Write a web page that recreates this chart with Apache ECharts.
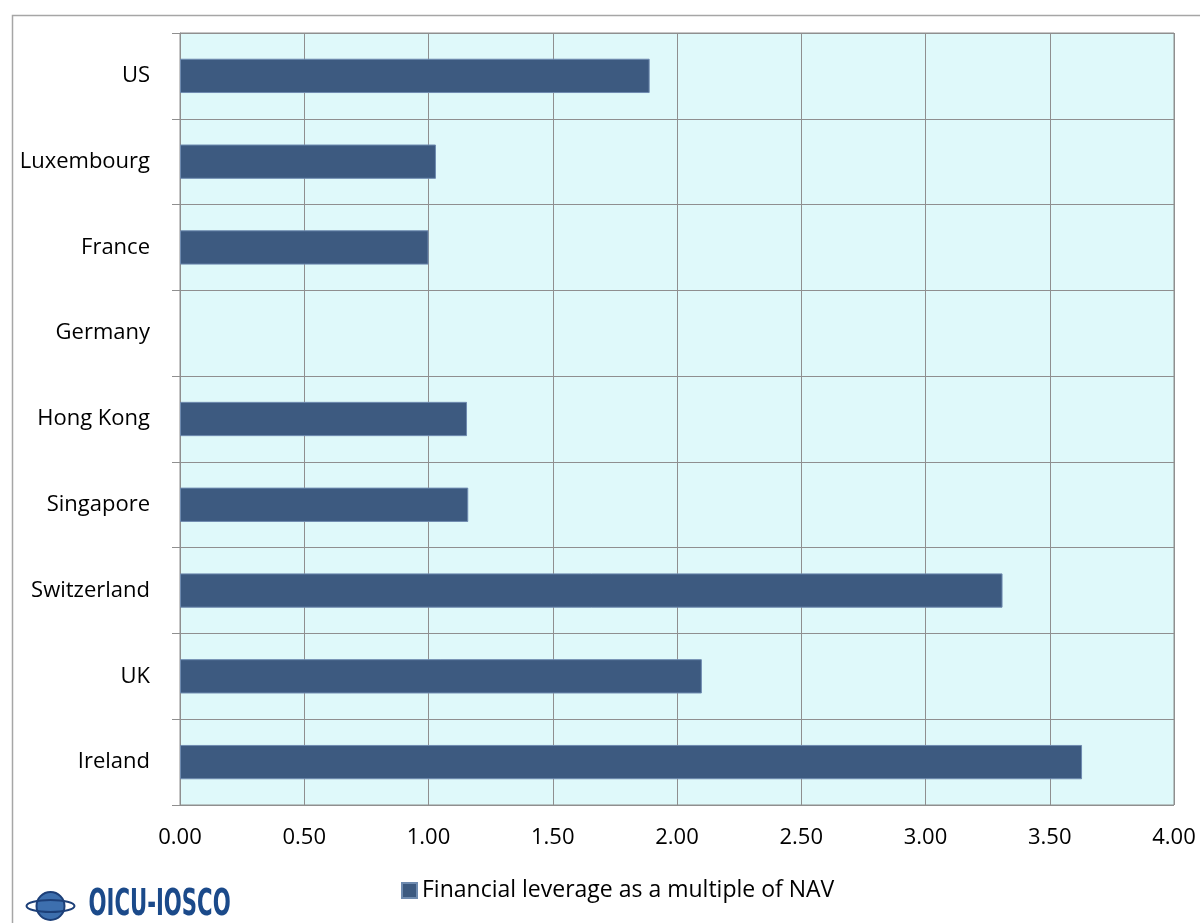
<!DOCTYPE html>
<html>
<head>
<meta charset="utf-8">
<script src="https://cdn.jsdelivr.net/npm/echarts@6/dist/echarts.min.js"></script>
<style>
  html, body { margin: 0; padding: 0; background: #fff; }
  #chart { width: 1200px; height: 923px; }
</style>
</head>
<body>
<div id="chart"></div>
<script>
// bottom-to-top order, as ECharts draws a category y axis
const countries = ['Ireland', 'UK', 'Switzerland', 'Singapore', 'Hong Kong', 'Germany', 'France', 'Luxembourg', 'US'];
const leverage = [3.63, 2.10, 3.31, 1.16, 1.155, null, 1.00, 1.03, 1.89];
const seriesName = 'Financial leverage as a multiple of NAV';

const gridColor = '#8f8f8f';
const labelFont = "'Open Sans', 'Noto Sans', sans-serif";

const chart = echarts.init(document.getElementById('chart'));

chart.setOption({
  animation: false,
  textStyle: { fontFamily: labelFont },
  grid: {
    left: 180,
    right: 26,
    top: 33,
    bottom: 118,
    show: true,
    backgroundColor: '#dff9fa',
    borderColor: gridColor,
    borderWidth: 1
  },
  legend: {
    bottom: 16,
    left: 396,
    itemWidth: 15,
    itemHeight: 15,
    icon: 'rect',
    itemGap: 6,
    textStyle: { fontSize: 23, color: '#000', fontFamily: labelFont },
    data: [seriesName]
  },
  xAxis: {
    type: 'value',
    min: 0,
    max: 4,
    interval: 0.5,
    axisLine: { show: false },
    axisTick: { show: false },
    axisLabel: {
      color: '#000',
      fontSize: 22,
      margin: 22,
      formatter: v => v.toFixed(2)
    },
    splitLine: { lineStyle: { color: gridColor, width: 1 } }
  },
  yAxis: {
    type: 'category',
    data: countries,
    axisLine: { show: true, lineStyle: { color: gridColor } },
    axisTick: { show: true, length: 8, lineStyle: { color: gridColor } },
    axisLabel: { color: '#000', fontSize: 22, margin: 30 },
    splitLine: { show: true, lineStyle: { color: gridColor, width: 1 } }
  },
  series: [{
    name: seriesName,
    type: 'bar',
    data: leverage,
    barWidth: '40%',
    itemStyle: { color: '#3d5a80', borderColor: '#6f8bb0', borderWidth: 1 }
  }],
  graphic: [
    {
      type: 'rect',
      left: 10, top: 13,
      shape: { width: 1200, height: 930 },
      style: { fill: 'none', stroke: '#a6a6a6', lineWidth: 1.5 },
      z: -1
    },
    {
      type: 'group',
      left: 24, top: 886,
      children: [
        {
          type: 'circle',
          shape: { cx: 24, cy: 22, r: 14 },
          style: { fill: '#3d6fae', stroke: '#1c3f78', lineWidth: 2 }
        },
        {
          type: 'ellipse',
          shape: { cx: 24, cy: 22, rx: 24, ry: 6 },
          style: { fill: 'none', stroke: '#1c3f78', lineWidth: 2 }
        },
        {
          type: 'text',
          x: 62, y: 2,
          scaleX: 0.62,
          style: {
            text: 'OICU-IOSCO',
            fill: '#1b4a8a',
            font: "bold 38px 'DejaVu Sans Condensed', 'Liberation Sans Narrow', sans-serif"
          }
        }
      ]
    }
  ]
});
</script>
</body>
</html>
